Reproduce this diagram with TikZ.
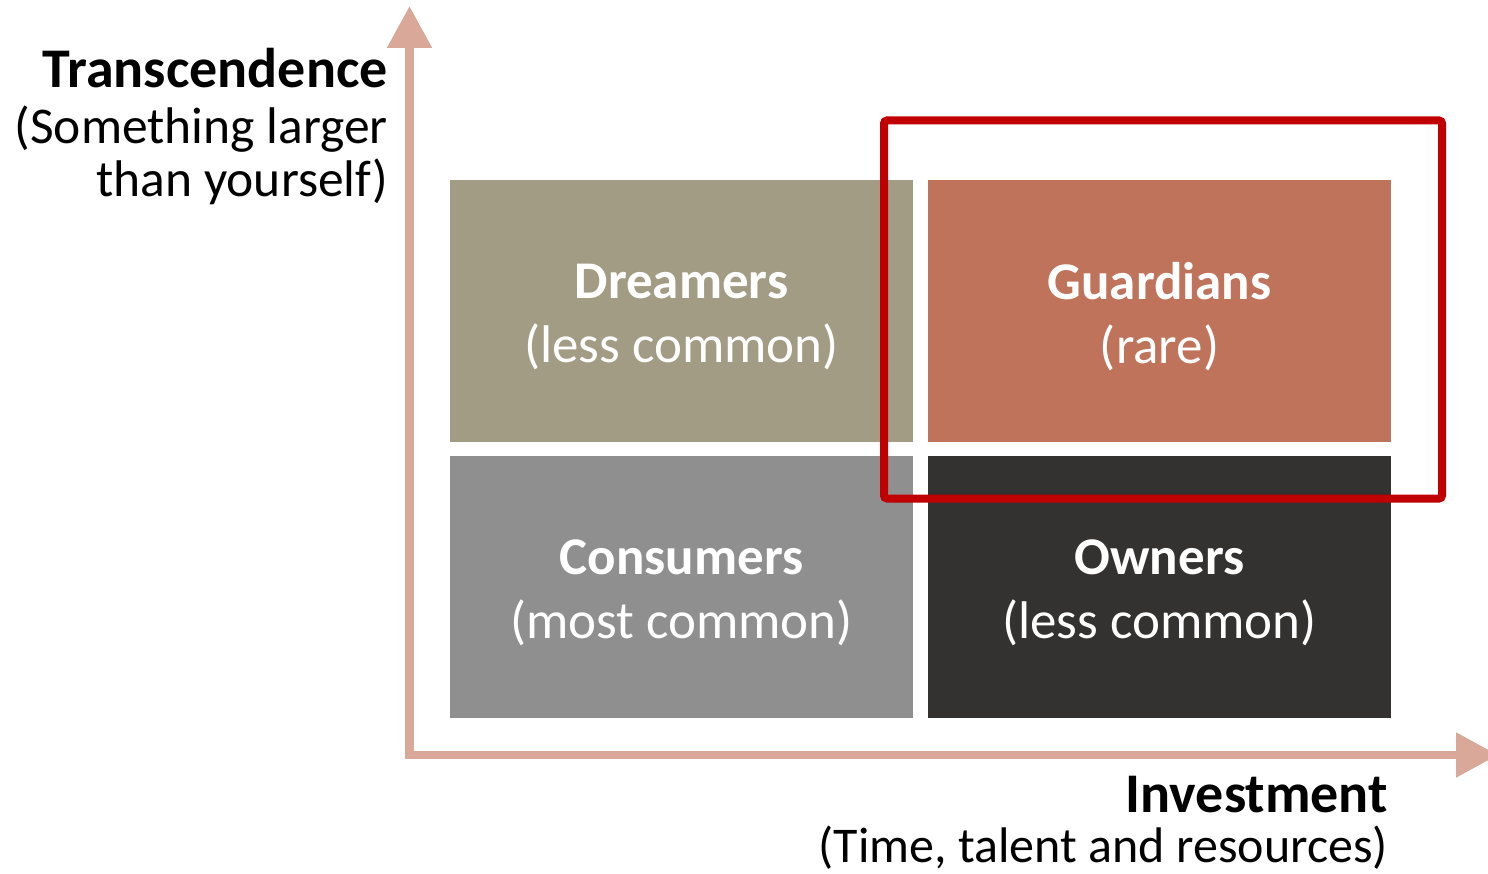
\documentclass[tikz,border=0pt]{standalone}
\usepackage{fontspec}
\setmainfont{Carlito}
\usetikzlibrary{arrows.meta}
\definecolor{dreamc}{HTML}{A39C85}
\definecolor{guardc}{HTML}{C0735B}
\definecolor{consc}{HTML}{8F8F8F}
\definecolor{ownc}{HTML}{333230}
\definecolor{axisc}{HTML}{D9A899}
\definecolor{redc}{HTML}{C00000}
\begin{document}
\begin{tikzpicture}[x=1pt,y=-1pt,
  quad/.style={minimum width=463pt, minimum height=262pt, inner sep=0pt},
  qtext/.style={inner sep=0pt, text=white, align=center, font=\fontsize{53}{64}\selectfont},
  lab/.style={inner sep=0pt, anchor=base east, font=\fontsize{51.5}{53}\selectfont},
  labb/.style={lab, font=\bfseries\fontsize{56}{58}\selectfont},
  axis/.style={draw=axisc, line width=8.5pt, line join=miter, {Triangle[width=43pt,length=42pt]}-{Triangle[width=43pt,length=42pt]}},
  hilite/.style={draw=redc, line width=8pt, rounded corners=3pt}]
\useasboundingbox (0,0) rectangle (1488,874);
\clip (0,0) rectangle (1488,874);
% quadrants
\node[quad, fill=dreamc] (dre) at (681.5,311) {};
\node[quad, fill=guardc] (gua) at (1159.5,311) {};
\node[quad, fill=consc] (con) at (681.5,587) {};
\node[quad, fill=ownc] (own) at (1159.5,587) {};
\node[qtext] (dret) at ([yshift=-5.5pt]dre.center) {\textbf{Dreamers}\\(less common)};
\node[qtext] (guat) at ([yshift=-5.5pt]gua.center) {\textbf{Guardians}\\(rare)};
\node[qtext] (cont) at ([yshift=-5.5pt]con.center) {\textbf{Consumers}\\(most common)};
\node[qtext] (ownt) at ([yshift=-5.5pt]own.center) {\textbf{Owners}\\(less common)};
% highlight
\coordinate (hl1) at (884,120.5);
\coordinate (hl2) at (1442,498.5);
\draw[hilite] (hl1) rectangle (hl2);
% axes
\coordinate (ytip) at (409.5,6);
\coordinate (org) at (409.5,755);
\coordinate (xtip) at (1498,755);
\draw[axis] (ytip) -- (org) -- (xtip);
% labels
\node[labb] (tt) at (388,88) {Transcendence};
\node[lab] (ts1) at (388,144) {(Something larger};
\node[lab] (ts2) at (388,197) {than yourself)};
\node[labb] (inv) at (1388,812) {Investment};
\node[lab, font=\fontsize{50}{52}\selectfont] (invs) at (1388,862) {(Time, talent and resources)};
\end{tikzpicture}
\end{document}
